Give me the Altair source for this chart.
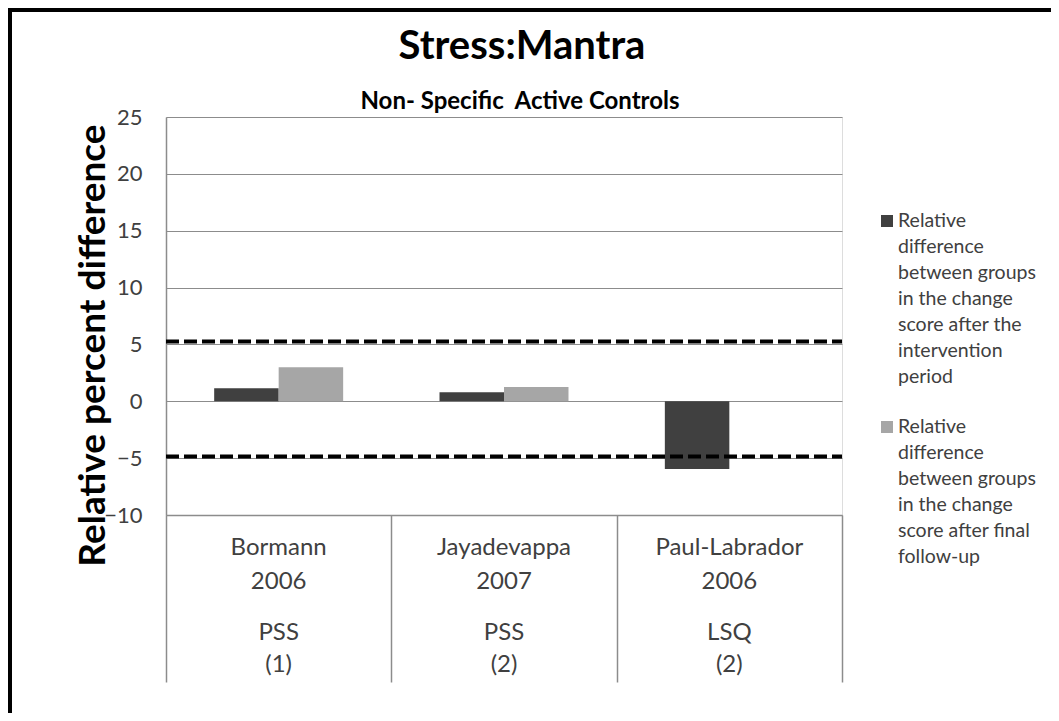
import altair as alt
import pandas as pd

# ---------------- data ----------------
studies = ["Bormann", "Jayadevappa", "Paul-Labrador"]
years = ["2006", "2007", "2006"]
measures = ["PSS", "PSS", "LSQ"]
counts = ["(1)", "(2)", "(2)"]
series = [
    "Relative difference between groups in the change score after the intervention period",
    "Relative difference between groups in the change score after final follow-up",
]
after_intervention = [1.15, 0.8, -5.95]
after_followup = [3.0, 1.25, None]
thresholds = [5.25, -4.85]
y_ticks = [-10, -5, 0, 5, 10, 15, 20, 25]
legend_lines = [
    ["Relative", "difference", "between groups", "in the change", "score after the", "intervention", "period"],
    ["Relative", "difference", "between groups", "in the change", "score after final", "follow-up"],
]
colors = ["#404040", "#a6a6a6"]
title_text = "Stress:Mantra"
subtitle_text = "Non- Specific\u00a0\u00a0Active Controls"
y_title = "Relative percent difference"

FONT = "Lato"
GRID = "#8c8c8c"
TXT = "#404040"
W, H = 676, 398

rows = []
for i, s in enumerate(studies):
    for ser, vals in zip(series, [after_intervention, after_followup]):
        if vals[i] is not None:
            rows.append({"study": s, "series": ser, "value": vals[i]})
bar_df = pd.DataFrame(rows)
cat_df = pd.DataFrame({"study": studies, "year": years, "measure": measures, "n": counts})
thr_df = pd.DataFrame({"t": thresholds})

x_scale = alt.Scale(domain=studies, paddingInner=0, paddingOuter=0)

bars = alt.Chart(bar_df).mark_bar().encode(
    x=alt.X("study:N", scale=x_scale, sort=studies,
            axis=alt.Axis(title=None, labels=False, tickBand="extent", tickSize=167,
                          tickColor=GRID, tickWidth=1.5, domainColor=GRID, domainWidth=1.5,
                          grid=False)),
    xOffset=alt.XOffset("series:N", sort=series,
                        scale=alt.Scale(domain=series, paddingOuter=0.747, paddingInner=0)),
    y=alt.Y("value:Q", scale=alt.Scale(domain=[-10, 25], nice=False, zero=False),
            axis=alt.Axis(values=y_ticks, grid=True, gridColor=GRID, gridWidth=1,
                          domainColor=GRID, domainWidth=1.5, ticks=False,
                          labelFontSize=22, labelPadding=24, labelColor=TXT, labelFont=FONT,
                          title=y_title, titleFontSize=37, titleFont=FONT,
                          titleFontWeight="bold", titleX=-62, titleY=228, titleAngle=270,
                          titleAlign="center", titleBaseline="alphabetic", titleColor="black")),
    color=alt.Color("series:N", scale=alt.Scale(domain=series, range=colors), legend=None),
)

dashes = alt.Chart(thr_df).mark_rule(color="black", strokeWidth=4, strokeDash=[13, 5]).encode(
    y="t:Q", x=alt.value(0), x2=alt.value(W)
)

cat_layers = []
for field, ypix in [("study", 431), ("year", 465), ("measure", 516), ("n", 548)]:
    cat_layers.append(
        alt.Chart(cat_df).mark_text(font=FONT, fontSize=24, color=TXT, baseline="middle").encode(
            x=alt.X("study:N", sort=studies), y=alt.value(ypix), text=f"{field}:N"
        )
    )

title_df = pd.DataFrame({"t": [title_text]})
sub_df = pd.DataFrame({"t": [subtitle_text]})
title = alt.Chart(title_df).mark_text(font=FONT, fontSize=40, fontWeight="bold", color="black",
                                      baseline="middle").encode(
    x=alt.value(356), y=alt.value(-70), text="t:N")
subtitle = alt.Chart(sub_df).mark_text(font=FONT, fontSize=24, fontWeight="bold", color="black",
                                       baseline="middle").encode(
    x=alt.value(354), y=alt.value(-15), text="t:N")

legend_layers = []
for k, (lines, ypix) in enumerate(zip(legend_lines, [104, 310])):
    ldf = pd.DataFrame({"series": [series[k]], "label": ["\n".join(lines)]})
    legend_layers.append(
        alt.Chart(ldf).mark_square(size=144, opacity=1, filled=True).encode(
            x=alt.value(721), y=alt.value(ypix),
            color=alt.Color("series:N", scale=alt.Scale(domain=series, range=colors), legend=None))
    )
    legend_layers.append(
        alt.Chart(ldf).mark_text(font=FONT, fontSize=19.5, color=TXT, align="left",
                                 baseline="line-top", lineBreak="\n", lineHeight=26).encode(
            x=alt.value(732), y=alt.value(ypix - 13), text="label:N")
    )

frame_df = pd.DataFrame({"k": [0]})
frame_top = alt.Chart(frame_df).mark_rule(color="black", strokeWidth=5).encode(
    x=alt.value(-162), x2=alt.value(900), y=alt.value(-107.5))
frame_left = alt.Chart(frame_df).mark_rule(color="black", strokeWidth=5).encode(
    x=alt.value(-156.5), y=alt.value(-110), y2=alt.value(620))

chart = alt.layer(
    bars, dashes, *cat_layers, title, subtitle, *legend_layers, frame_top, frame_left
).properties(
    width=W, height=H,
    autosize=alt.AutoSizeParams(type="none"),
    padding={"left": 158, "top": 109, "right": 209, "bottom": 198},
).configure_view(stroke=None).configure(background="white")

chart.save("out.html", embed_options={"renderer": "svg", "actions": False})
